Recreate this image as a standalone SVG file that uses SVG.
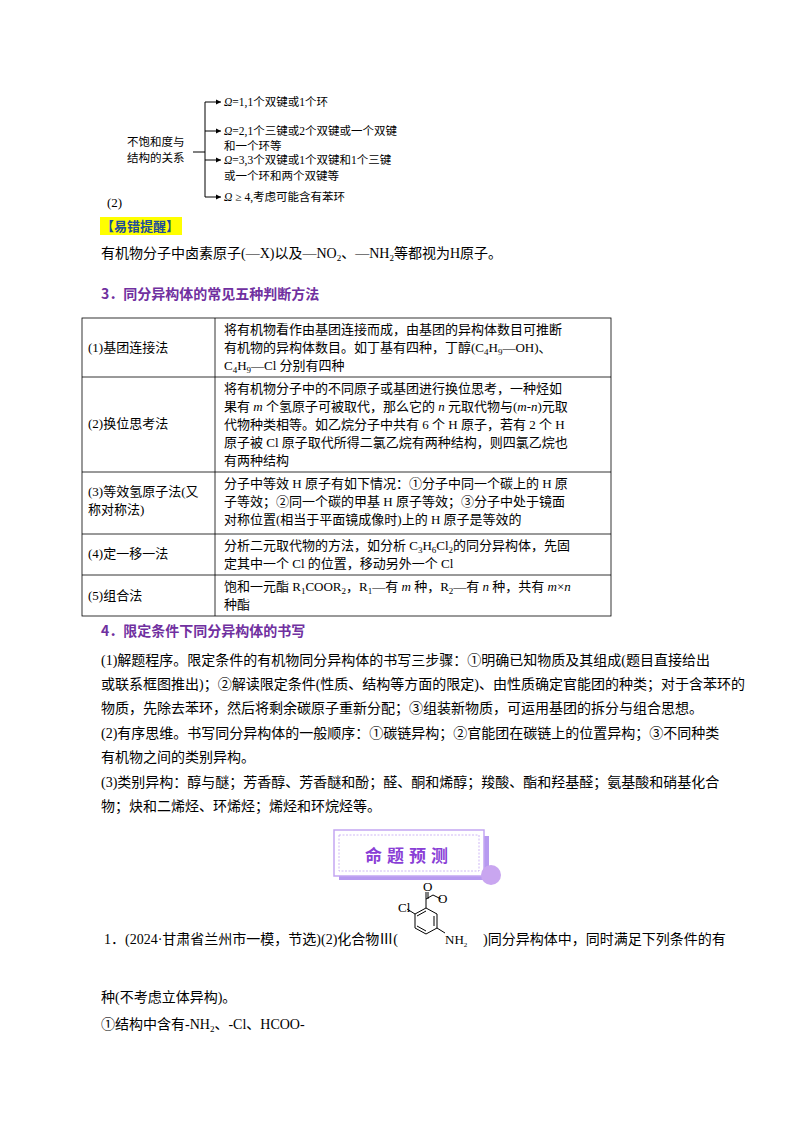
<svg xmlns="http://www.w3.org/2000/svg" width="800" height="1132" viewBox="0 0 800 1132">
<style>
text{font-family:"Liberation Serif","Noto Sans CJK SC",serif;font-size:13px;fill:#000}
.s{font-size:11.5px}
.b{font-size:14px}
.h{font-family:"Noto Sans CJK SC",sans-serif;font-weight:bold;font-size:14px;fill:#7030a0}
.ln{stroke:#000;stroke-width:1;fill:none}
.tb{stroke:#000;stroke-width:0.8;fill:none}
</style>
<defs><marker id="a" markerWidth="6" markerHeight="6" refX="5" refY="3" orient="auto"><path d="M0,0.5L5,3L0,5.5z" fill="#000"/></marker></defs>
<rect width="800" height="1132" fill="#fff"/>
<g id="tree">
<text class="s" x="127" y="146">不饱和度与</text>
<text class="s" x="127" y="162">结构的关系</text>
<g class="ln">
<path d="M193,152H205"/>
<path d="M205,102V197"/>
<path d="M205,102H221" marker-end="url(#a)"/>
<path d="M205,131H221" marker-end="url(#a)"/>
<path d="M205,160H221" marker-end="url(#a)"/>
<path d="M205,197H221" marker-end="url(#a)"/>
</g>
<text class="s" x="224" y="106"><tspan font-style="italic">Ω</tspan>=1,1个双键或1个环</text>
<text class="s" x="224" y="135"><tspan font-style="italic">Ω</tspan>=2,1个三键或2个双键或一个双键</text>
<text class="s" x="224" y="150">和一个环等</text>
<text class="s" x="224" y="164"><tspan font-style="italic">Ω</tspan>=3,3个双键或1个双键和1个三键</text>
<text class="s" x="224" y="180">或一个环和两个双键等</text>
<text class="s" x="224" y="201"><tspan font-style="italic">Ω</tspan> ≥ 4,考虑可能含有苯环</text>
<text x="107" y="207">(2)</text>
</g>
<rect x="100" y="217" width="82" height="18" fill="#ffff00"/>
<text x="101" y="231" style="font-family:'Noto Sans CJK SC',sans-serif;font-weight:bold;fill:#1f4e9a">【易错提醒】</text>
<text class="b" x="101" y="258">有机物分子中卤素原子(—X)以及—NO<tspan font-size="9" dy="3">2</tspan><tspan dy="-3">、—NH</tspan><tspan font-size="9" dy="3">2</tspan><tspan dy="-3">等都视为H原子。</tspan></text>
<text class="h" x="101" y="299">3．同分异构体的常见五种判断方法</text>
<g id="table">
<rect class="tb" x="82" y="318" width="529" height="298"/>
<path class="tb" d="M215,318V616M82,377H611M82,472H611M82,534H611M82,575H611"/>
<text x="88" y="352">(1)基团连接法</text>
<text x="224" y="334">将有机物看作由基团连接而成，由基团的异构体数目可推断</text>
<text x="224" y="352">有机物的异构体数目。如丁基有四种，丁醇(C<tspan font-size="9" dy="3">4</tspan><tspan dy="-3">H</tspan><tspan font-size="9" dy="3">9</tspan><tspan dy="-3">—OH)、</tspan></text>
<text x="224" y="370">C<tspan font-size="9" dy="3">4</tspan><tspan dy="-3">H</tspan><tspan font-size="9" dy="3">9</tspan><tspan dy="-3">—Cl 分别有四种</tspan></text>
<text x="88" y="428">(2)换位思考法</text>
<text x="224" y="393">将有机物分子中的不同原子或基团进行换位思考，一种烃如</text>
<text x="224" y="411">果有 <tspan font-style="italic">m</tspan> 个氢原子可被取代，那么它的 <tspan font-style="italic">n</tspan> 元取代物与(<tspan font-style="italic">m</tspan>-<tspan font-style="italic">n</tspan>)元取</text>
<text x="224" y="429">代物种类相等。如乙烷分子中共有 6 个 H 原子，若有 2 个 H</text>
<text x="224" y="447">原子被 Cl 原子取代所得二氯乙烷有两种结构，则四氯乙烷也</text>
<text x="224" y="465">有两种结构</text>
<text x="88" y="496">(3)等效氢原子法(又</text>
<text x="88" y="514">称对称法)</text>
<text x="224" y="488">分子中等效 H 原子有如下情况：①分子中同一个碳上的 H 原</text>
<text x="224" y="506">子等效；②同一个碳的甲基 H 原子等效；③分子中处于镜面</text>
<text x="224" y="524">对称位置(相当于平面镜成像时)上的 H 原子是等效的</text>
<text x="88" y="558">(4)定一移一法</text>
<text x="224" y="550">分析二元取代物的方法，如分析 C<tspan font-size="9" dy="3">3</tspan><tspan dy="-3">H</tspan><tspan font-size="9" dy="3">6</tspan><tspan dy="-3">Cl</tspan><tspan font-size="9" dy="3">2</tspan><tspan dy="-3">的同分异构体，先固</tspan></text>
<text x="224" y="568">定其中一个 Cl 的位置，移动另外一个 Cl</text>
<text x="88" y="600">(5)组合法</text>
<text x="224" y="591">饱和一元酯 R<tspan font-size="9" dy="3">1</tspan><tspan dy="-3">COOR</tspan><tspan font-size="9" dy="3">2</tspan><tspan dy="-3">，R</tspan><tspan font-size="9" dy="3">1</tspan><tspan dy="-3">—有 </tspan><tspan font-style="italic">m</tspan> 种，R<tspan font-size="9" dy="3">2</tspan><tspan dy="-3">—有 </tspan><tspan font-style="italic">n</tspan> 种，共有 <tspan font-style="italic">m</tspan>×<tspan font-style="italic">n</tspan></text>
<text x="224" y="609">种酯</text>
</g>
<text class="h" x="101" y="636">4．限定条件下同分异构体的书写</text>
<text class="b" x="101" y="665">(1)解题程序。限定条件的有机物同分异构体的书写三步骤：①明确已知物质及其组成(题目直接给出</text>
<text class="b" x="101" y="689">或联系框图推出)；②解读限定条件(性质、结构等方面的限定)、由性质确定官能团的种类；对于含苯环的</text>
<text class="b" x="101" y="713">物质，先除去苯环，然后将剩余碳原子重新分配；③组装新物质，可运用基团的拆分与组合思想。</text>
<text class="b" x="101" y="738">(2)有序思维。书写同分异构体的一般顺序：①碳链异构；②官能团在碳链上的位置异构；③不同种类</text>
<text class="b" x="101" y="762">有机物之间的类别异构。</text>
<text class="b" x="101" y="787">(3)类别异构：醇与醚；芳香醇、芳香醚和酚；醛、酮和烯醇；羧酸、酯和羟基醛；氨基酸和硝基化合</text>
<text class="b" x="101" y="811">物；炔和二烯烃、环烯烃；烯烃和环烷烃等。</text>
<g id="banner">
<rect x="339" y="836" width="150" height="44" fill="#b79af0"/>
<rect x="334" y="830" width="150" height="46" fill="#fff" stroke="#c3a6f2" stroke-width="1.5"/>
<rect x="339" y="835" width="140" height="36" fill="none" stroke="#c3a6f2" stroke-width="0.8" stroke-dasharray="2,1.5"/>
<circle cx="491" cy="875" r="10" fill="#c9a6f0"/>
<text x="409" y="862" text-anchor="middle" style="font-family:'Noto Sans CJK SC',sans-serif;font-weight:bold;font-size:17px;fill:#8a3fd6;letter-spacing:5px">命题预测</text>
</g>
<g id="mol" class="ln" stroke-width="0.8">
<path d="M426,908L437,914L437,928L426,934L415,928L415,914Z"/>
<path d="M434,916V926M426,931L417,926M417,916L426,911"/>
<path d="M415,914L407,909"/>
<path d="M426,908V899L433,895L441,899M426,899L426,892"/>
<path d="M428,899V892"/>
<path d="M437,928L445,933"/>
</g>
<text x="398" y="912" font-size="10">Cl</text>
<text x="423" y="891" font-size="9">O</text>
<text x="438" y="903" font-size="9">O</text>
<text x="445" y="944" font-size="10">NH<tspan font-size="7" dy="3">2</tspan></text>
<text class="b" x="104" y="944">1．(2024·甘肃省兰州市一模，节选)(2)化合物Ⅲ(</text>
<text class="b" x="483" y="944">)同分异构体中，同时满足下列条件的有</text>
<text class="b" x="101" y="1002">种(不考虑立体异构)。</text>
<text class="b" x="101" y="1029">①结构中含有-NH<tspan font-size="9" dy="3">2</tspan><tspan dy="-3">、-Cl、HCOO-</tspan></text>
</svg>
